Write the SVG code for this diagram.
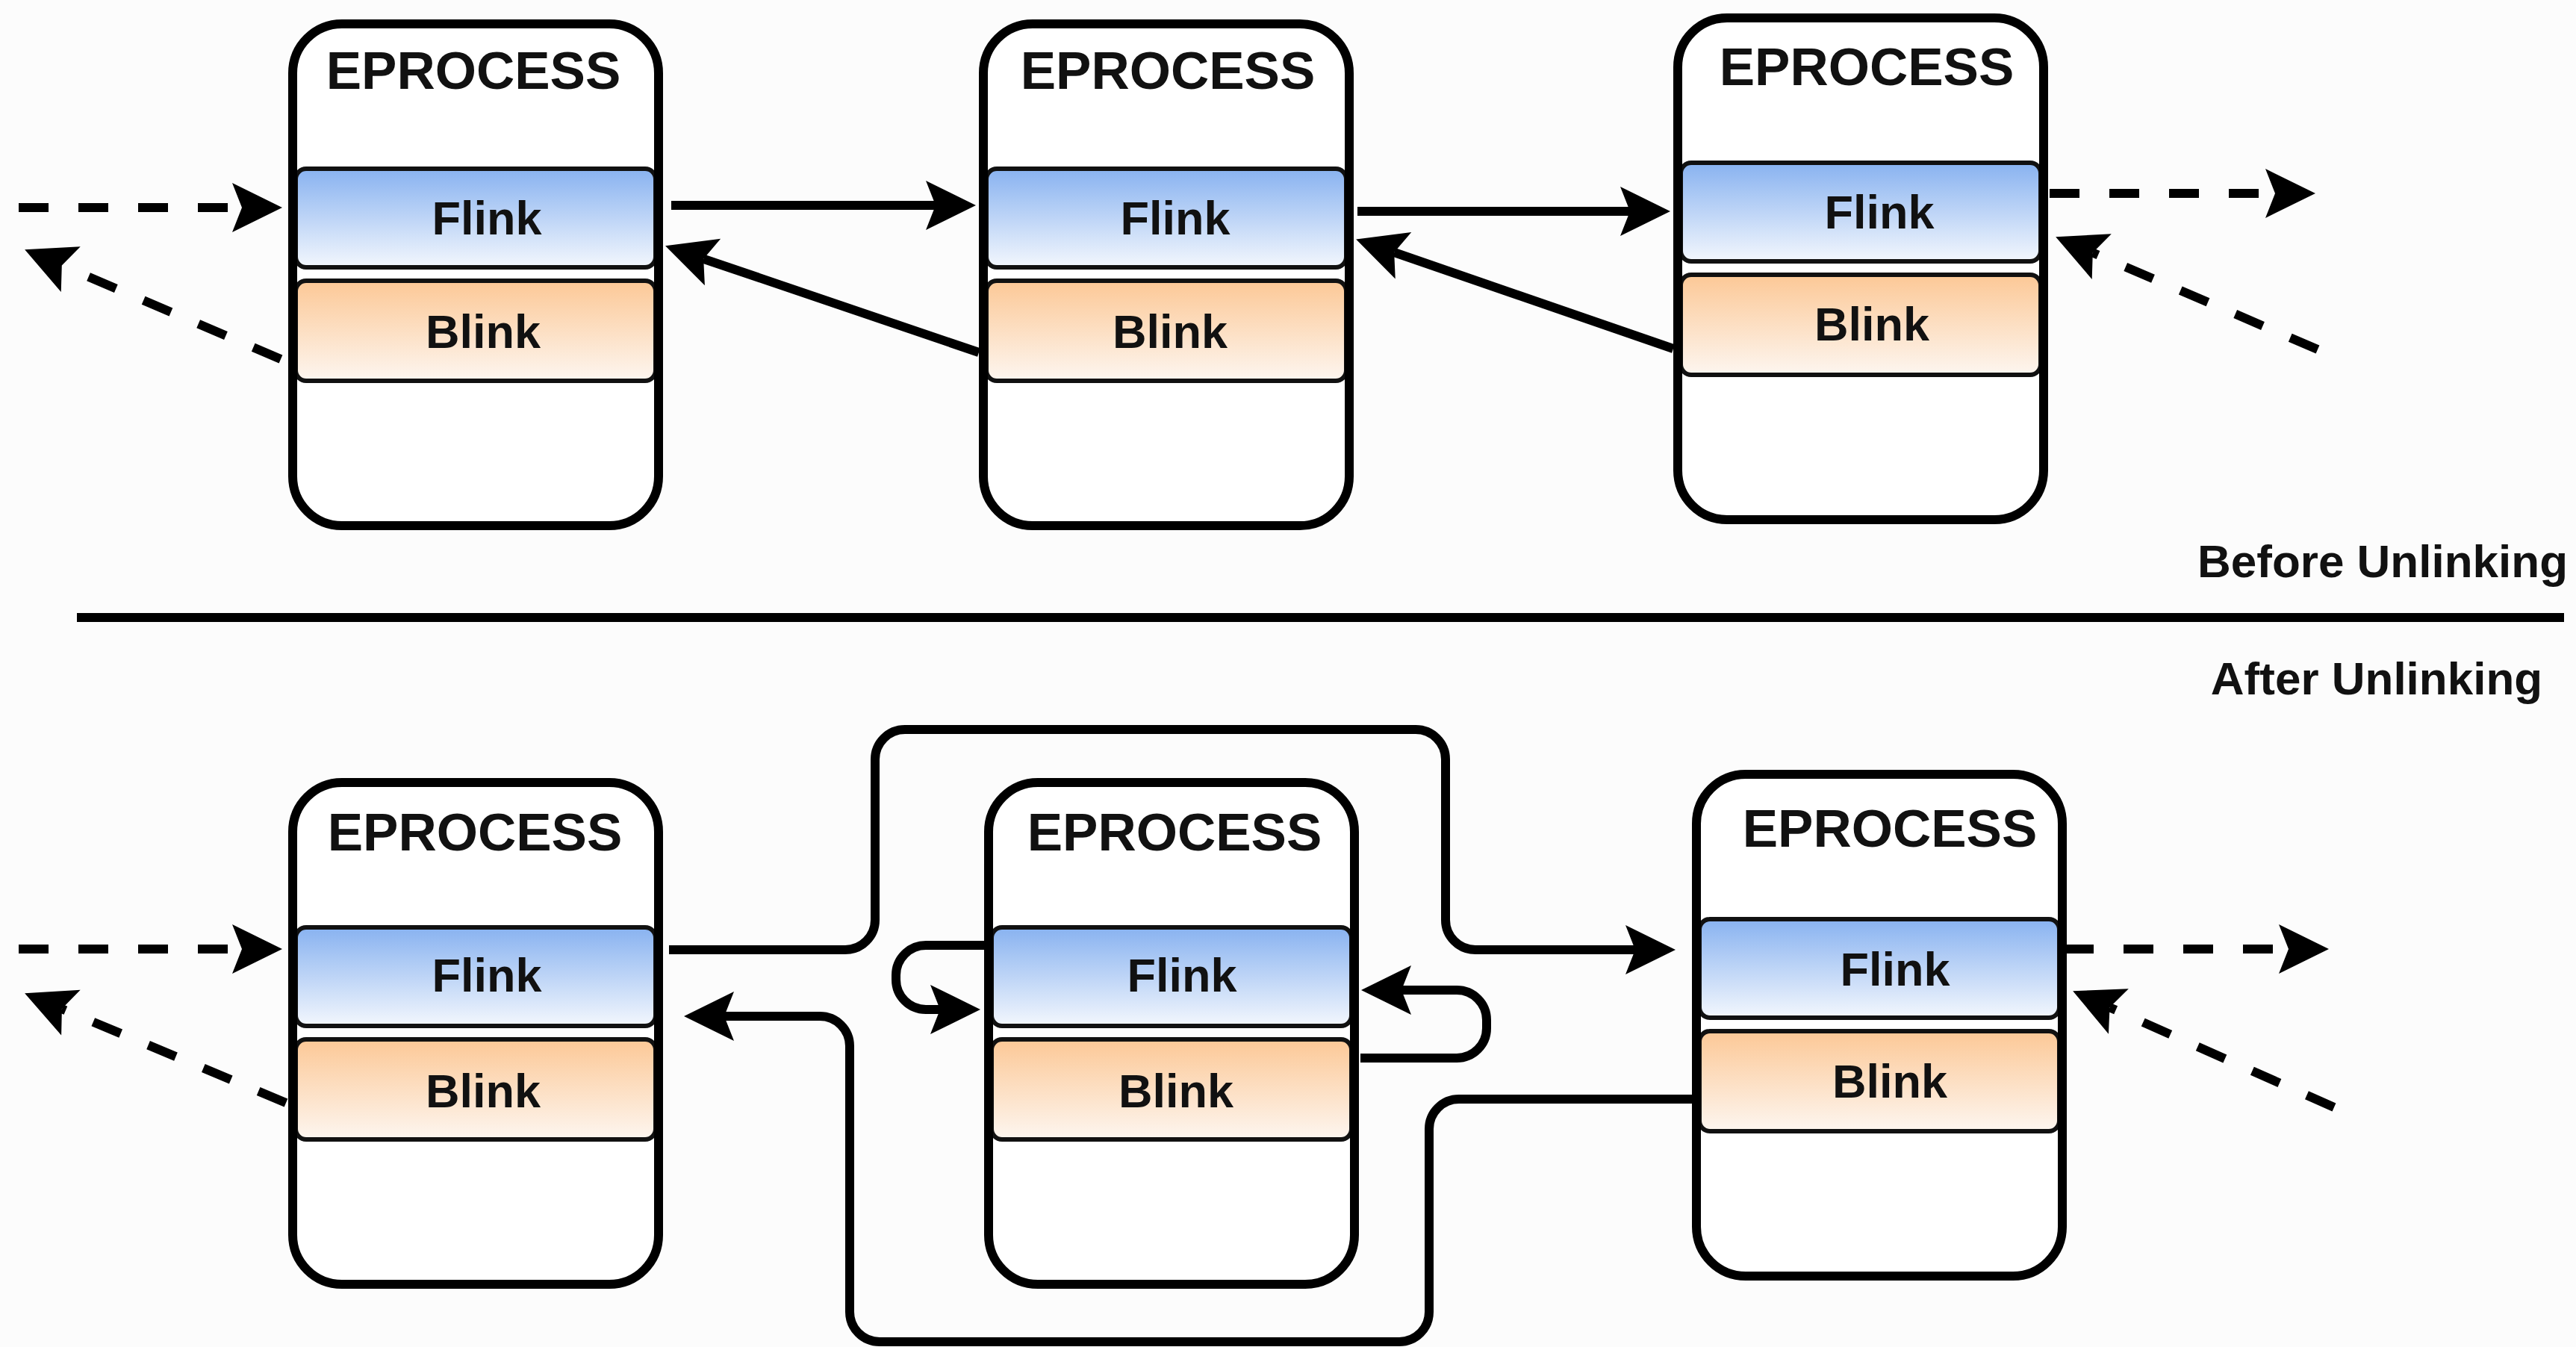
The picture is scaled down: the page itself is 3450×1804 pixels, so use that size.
<svg xmlns="http://www.w3.org/2000/svg" width="3450" height="1804" viewBox="0 0 3450 1804">
<style>
.box{fill:none;stroke:#000;stroke-width:12}
.boxbg{fill:#fff;stroke:none}
.fl{fill:url(#gBlue);stroke:#111;stroke-width:6}
.bl{fill:url(#gOrange);stroke:#111;stroke-width:6}
.t{font-family:"Liberation Sans",Arial,Helvetica,sans-serif;font-weight:bold;fill:#111;text-anchor:middle}
.hd{font-size:71px}
.fld{font-size:63px}
.lbl{font-family:"Liberation Sans",Arial,Helvetica,sans-serif;font-weight:bold;fill:#111;font-size:62px;text-anchor:middle}
.c{fill:none;stroke:#000;stroke-width:12}
.d{fill:none;stroke:#000;stroke-width:12;stroke-dasharray:40 40}
.a{marker-end:url(#ah)}
</style>
<defs>
<linearGradient id="gBlue" x1="0" y1="0" x2="0" y2="1">
<stop offset="0" stop-color="#88B2F0"/>
<stop offset="1" stop-color="#F3F7FD"/>
</linearGradient>
<linearGradient id="gOrange" x1="0" y1="0" x2="0" y2="1">
<stop offset="0" stop-color="#FCC896"/>
<stop offset="1" stop-color="#FDF6F0"/>
</linearGradient>
<marker id="ah" markerUnits="userSpaceOnUse" viewBox="-20 -40 80 80" markerWidth="80" markerHeight="80" refX="0" refY="0" orient="auto" overflow="visible">
<path d="M54,0 L-13,-33 L0,0 L-13,33 Z" fill="#000"/>
</marker>
<g id="proc">
<rect class="boxbg" x="6" y="6" width="490" height="672" rx="66"/>
<rect class="fl" x="10" y="200" width="482" height="132" rx="14"/>
<rect class="bl" x="10" y="350" width="482" height="134" rx="14"/>
<rect class="box" x="6" y="6" width="490" height="672" rx="66"/>
</g>
</defs>
<rect x="0" y="0" width="3450" height="1804" fill="#FCFCFC"/>

<g id="before-p1" transform="translate(386,26)">
<use href="#proc"/>
<text class="t hd" x="248" y="93">EPROCESS</text>
<text class="t fld" x="266" y="288">Flink</text>
<text class="t fld" x="261" y="440">Blink</text>
</g>
<g id="before-p2" transform="translate(1311,26)">
<use href="#proc"/>
<text class="t hd" x="253" y="93">EPROCESS</text>
<text class="t fld" x="263" y="288">Flink</text>
<text class="t fld" x="256" y="440">Blink</text>
</g>
<g id="before-p3" transform="translate(2241,18)">
<use href="#proc"/>
<text class="t hd" x="259" y="96">EPROCESS</text>
<text class="t fld" x="276" y="288">Flink</text>
<text class="t fld" x="266" y="438">Blink</text>
</g>

<g id="after-p1" transform="translate(386,1042)">
<use href="#proc"/>
<text class="t hd" x="250" y="97">EPROCESS</text>
<text class="t fld" x="266" y="286">Flink</text>
<text class="t fld" x="261" y="441">Blink</text>
</g>
<g id="after-p2" transform="translate(1318,1042)">
<use href="#proc"/>
<text class="t hd" x="255" y="97">EPROCESS</text>
<text class="t fld" x="265" y="286">Flink</text>
<text class="t fld" x="257" y="441">Blink</text>
</g>
<g id="after-p3" transform="translate(2266,1031)">
<use href="#proc"/>
<text class="t hd" x="265" y="103">EPROCESS</text>
<text class="t fld" x="272" y="289">Flink</text>
<text class="t fld" x="265" y="439">Blink</text>
</g>

<g id="labels">
<line x1="103" y1="827" x2="3434" y2="827" stroke="#000" stroke-width="12"/>
<text class="lbl" x="3191" y="773">Before Unlinking</text>
<text class="lbl" x="3183" y="930">After Unlinking</text>
</g>

<g id="connectors">
<!-- before -->
<path class="d a" d="M25,278 H324"/>
<path class="d a" d="M376,481 L82.8,355.5"/>
<path class="c a" d="M899,275 H1253"/>
<path class="c a" d="M1311,472 L942.2,346.7"/>
<path class="c a" d="M1818,283 H2183"/>
<path class="c a" d="M2241,467 L1867.2,338"/>
<path class="d a" d="M2745,259 H3047"/>
<path class="d a" d="M3104,468 L2802.8,338.5"/>
<!-- after -->
<path class="d a" d="M25,1271 H324"/>
<path class="d a" d="M383,1477 L82.9,1351.1"/>
<path class="c a" d="M896,1272 H1132 A40,40 0 0 0 1172,1232 V1017 A40,40 0 0 1 1212,977 H1896 A40,40 0 0 1 1936,1017 V1232 A40,40 0 0 0 1976,1272 H2190"/>
<path class="c a" d="M1318,1266 H1240 A40,40 0 0 0 1200,1306 V1312 A40,40 0 0 0 1240,1352 H1259"/>
<path class="c a" d="M1822,1417 H1951 A40,40 0 0 0 1991,1377 V1366 A40,40 0 0 0 1951,1326 H1877"/>
<path class="c a" d="M2266,1472 H1954 A40,40 0 0 0 1914,1512 V1757 A40,40 0 0 1 1874,1797 H1178 A40,40 0 0 1 1138,1757 V1401 A40,40 0 0 0 1098,1361 H970"/>
<path class="d a" d="M2764,1271 H3065"/>
<path class="d a" d="M3126,1483 L2825.5,1349.2"/>
</g>
</svg>
